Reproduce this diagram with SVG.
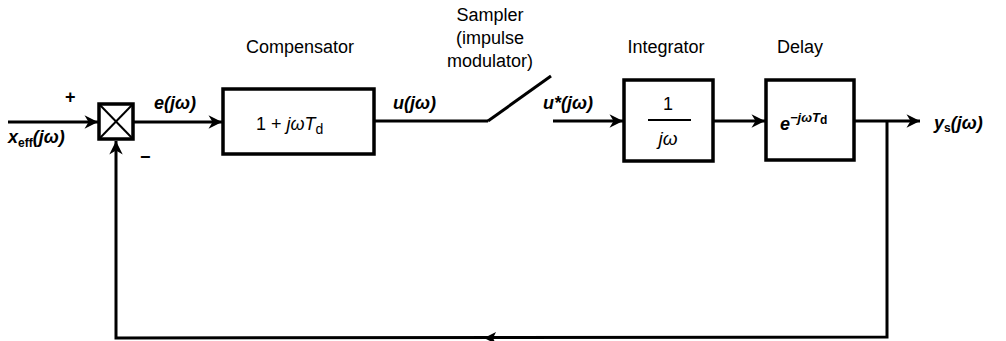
<svg xmlns="http://www.w3.org/2000/svg" width="1006" height="341" viewBox="0 0 1006 341">
<style>
.ln{stroke:#000;stroke-width:3;fill:none}
.bx{stroke:#000;stroke-width:3.5;fill:#fff}
.t{font-family:"Liberation Sans",Arial,sans-serif;font-size:18px;fill:#000}
.m{font-family:"Liberation Sans",Arial,sans-serif;font-size:18px;fill:#000;font-style:italic;font-weight:bold}
.s{font-family:"Liberation Sans",Arial,sans-serif;font-size:12px;font-weight:bold;fill:#000;font-style:normal}
</style>
<defs>
<marker id="ah" viewBox="0 0 10 10" refX="10" refY="5" markerWidth="5" markerHeight="4.5" orient="auto" markerUnits="strokeWidth">
<path d="M0,0 L10,5 L0,10 L3,5 Z" fill="#000"/>
</marker>
</defs>
<rect width="1006" height="341" fill="#fff"/>
<g id="connectors">
<line class="ln" x1="8" y1="122" x2="98" y2="122" marker-end="url(#ah)"/>
<line class="ln" x1="134" y1="122" x2="222" y2="122" marker-end="url(#ah)"/>
<line class="ln" x1="375" y1="121" x2="488" y2="121"/>
<line class="ln" x1="488" y1="121" x2="551" y2="76"/>
<line class="ln" x1="553" y1="121" x2="623" y2="121" marker-end="url(#ah)"/>
<line class="ln" x1="713" y1="121" x2="765" y2="121" marker-end="url(#ah)"/>
<line class="ln" x1="854" y1="121" x2="920" y2="121" marker-end="url(#ah)"/>
<polyline class="ln" points="887,121 887,337 116,338 116,141" marker-end="url(#ah)"/>
<path d="M484,338 L496,332 L493,338 L496,344 Z" fill="#000"/>
</g>
<g id="sum">
<rect class="bx" x="99" y="104" width="34" height="35" stroke-width="4"/>
<line x1="99" y1="104" x2="133" y2="139" stroke="#000" stroke-width="2"/>
<line x1="133" y1="104" x2="99" y2="139" stroke="#000" stroke-width="2"/>
<text class="t" x="65" y="103" font-weight="bold" font-size="20">+</text>
<text class="t" x="140" y="163" font-weight="bold" font-size="20">−</text>
</g>
<g id="input-label">
<text class="m" x="8" y="143">x<tspan class="s" dy="4">eff</tspan><tspan dy="-4">(jω)</tspan></text>
</g>
<text class="m" x="154" y="109">e(jω)</text>
<g id="compensator">
<rect class="bx" x="223" y="89" width="151" height="65"/>
<text class="t" x="300" y="53" text-anchor="middle">Compensator</text>
<text class="t" x="256" y="130" font-size="19">1 + <tspan font-style="italic">jωT</tspan><tspan font-size="14" dy="4">d</tspan></text>
</g>
<text class="m" x="393" y="109">u(jω)</text>
<g id="sampler">
<text class="t" x="490" y="21" text-anchor="middle">Sampler</text>
<text class="t" x="490" y="44" text-anchor="middle">(impulse</text>
<text class="t" x="490" y="67" text-anchor="middle">modulator)</text>
</g>
<text class="m" x="543" y="109">u*(jω)</text>
<g id="integrator">
<rect class="bx" x="624" y="80" width="89" height="81"/>
<text class="t" x="666" y="53" text-anchor="middle">Integrator</text>
<text class="t" x="668" y="110" text-anchor="middle" font-size="19">1</text>
<line x1="648" y1="120" x2="691" y2="120" stroke="#000" stroke-width="2"/>
<text class="t" x="668" y="145" text-anchor="middle" style="font-style:italic;font-size:19px">jω</text>
</g>
<g id="delay">
<rect class="bx" x="766" y="80" width="88" height="80"/>
<text class="t" x="800" y="53" text-anchor="middle">Delay</text>
<text class="m" x="780" y="130">e<tspan font-size="13" dy="-8">−jωT</tspan><tspan class="s" dy="2">d</tspan></text>
</g>
<text class="m" x="934" y="129">y<tspan class="s" dy="3">s</tspan><tspan dy="-3">(jω)</tspan></text>
</svg>
